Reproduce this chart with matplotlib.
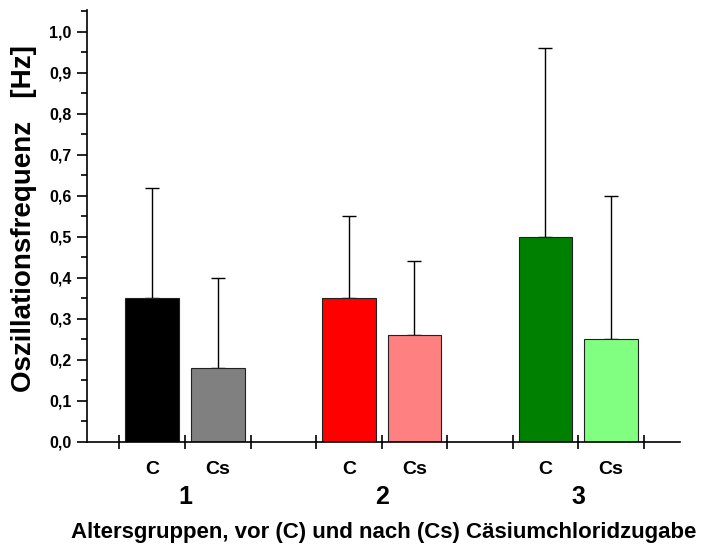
import numpy as np
import matplotlib.pyplot as plt
from matplotlib.ticker import FixedLocator, MultipleLocator, FuncFormatter
from matplotlib.transforms import blended_transform_factory

# Werte pro Altersgruppe: vor (C) und nach (Cs) Cäsiumchloridzugabe
gruppen = ['1', '2', '3']
kategorien = ['C', 'Cs']
mittel_c = [0.35, 0.35, 0.50]
mittel_cs = [0.18, 0.26, 0.25]
fehler_c = [0.27, 0.20, 0.46]
fehler_cs = [0.22, 0.18, 0.35]
farben_c = ['#000000', '#ff0000', '#008000']
farben_cs = ['#808080', '#ff8080', '#80ff80']

plt.rcParams['font.family'] = ['Liberation Sans', 'DejaVu Sans']
plt.rcParams['font.weight'] = 'bold'

fig = plt.figure(figsize=(7.03, 5.44), dpi=100)
ax = fig.add_axes([0.1233, 0.188, 0.8437, 0.7936])

breite = 0.82
pos_c = [3 * i + 1 for i in range(len(gruppen))]
pos_cs = [3 * i + 2 for i in range(len(gruppen))]

ax.bar(pos_c, mittel_c, width=breite, color=farben_c, edgecolor='#222222', linewidth=0.8, zorder=2)
ax.bar(pos_cs, mittel_cs, width=breite, color=farben_cs, edgecolor='#222222', linewidth=0.8, zorder=2)

# nur nach oben gerichtete Fehlerbalken
ax.errorbar(pos_c, mittel_c, yerr=[np.zeros(len(fehler_c)), fehler_c], fmt='none',
            ecolor='black', elinewidth=1, capsize=5, capthick=1, zorder=1)
ax.errorbar(pos_cs, mittel_cs, yerr=[np.zeros(len(fehler_cs)), fehler_cs], fmt='none',
            ecolor='black', elinewidth=1, capsize=5, capthick=1, zorder=1)

ax.set_xlim(0, 9.05)
ax.set_ylim(0, 1.053)

ax.spines['top'].set_visible(False)
ax.spines['right'].set_visible(False)
ax.spines['left'].set_linewidth(1.2)
ax.spines['bottom'].set_linewidth(1.2)

# y-Achse
ax.yaxis.set_major_locator(MultipleLocator(0.1))
ax.yaxis.set_minor_locator(MultipleLocator(0.05))
ax.yaxis.set_major_formatter(FuncFormatter(lambda v, p: f'{v:.1f}'.replace('.', ',')))
ax.tick_params(axis='y', which='major', direction='out', length=7, width=1.2, labelsize=11.5, pad=4)
ax.tick_params(axis='y', which='minor', direction='out', length=4, width=1.2)

# x-Achse: Striche zwischen den Balken, Beschriftung C/Cs unter den Balken
ax.xaxis.set_major_locator(FixedLocator(np.arange(0.5, 9, 1.0)))
ax.xaxis.set_minor_locator(FixedLocator(pos_c + pos_cs))
ax.xaxis.set_major_formatter(FuncFormatter(lambda v, p: ''))
ax.xaxis.set_minor_formatter(FuncFormatter(lambda v, p: kategorien[(int(round(v)) - 1) % 3]))
ax.tick_params(axis='x', which='major', direction='inout', length=10, width=1.2)
ax.tick_params(axis='x', which='minor', direction='in', length=3, width=1.2, labelsize=14, pad=14)

trans = blended_transform_factory(ax.transData, ax.transAxes)
for i, g in enumerate(gruppen):
    ax.text((pos_c[i] + pos_cs[i]) / 2, -0.128, g, transform=trans, ha='center', va='center',
            fontsize=18, fontweight='bold')

ax.set_xlabel('Altersgruppen, vor (C) und nach (Cs) Cäsiumchloridzugabe', fontsize=16,
              fontweight='bold')
ax.xaxis.set_label_coords(0.5, -0.186)
ax.set_ylabel('Oszillationsfrequenz   [Hz]', fontsize=20, fontweight='bold')
ax.yaxis.set_label_coords(-0.083, 0.517)

fig.savefig('out.png', dpi=100)
